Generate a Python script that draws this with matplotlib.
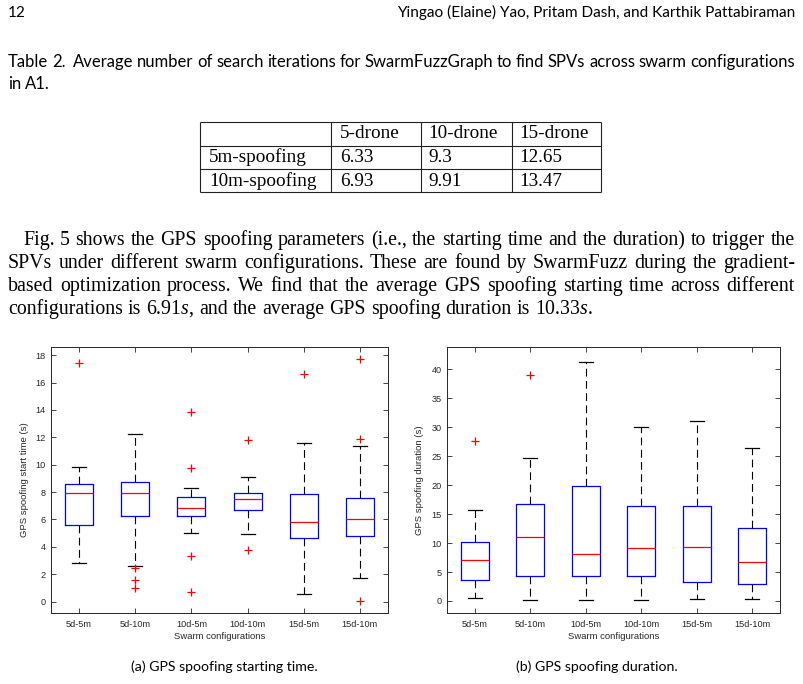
import matplotlib
matplotlib.use('Agg')
import matplotlib.pyplot as plt

W, H = 804, 684

# ---------------- data ----------------
configs = ['5d-5m', '5d-10m', '10d-5m', '10d-10m', '15d-5m', '15d-10m']

# (a) GPS spoofing start time (s)
start_lo = [2.80, 2.58, 5.04, 4.91, 0.54, 1.70]
start_q1 = [5.57, 6.25, 6.25, 6.72, 4.67, 4.77]
start_med = [7.95, 7.90, 6.86, 7.47, 5.84, 6.01]
start_q3 = [8.60, 8.71, 7.64, 7.96, 7.88, 7.57]
start_hi = [9.80, 12.24, 8.32, 9.07, 11.60, 11.34]
start_fliers = [[17.45], [2.43, 1.58, 0.97], [13.82, 9.78, 3.36, 0.68],
                [11.82, 3.77], [16.60], [17.69, 11.85, 0.05]]

# (b) GPS spoofing duration (s)
dur_lo = [0.46, 0.17, 0.11, 0.11, 0.29, 0.40]
dur_q1 = [3.62, 4.37, 4.37, 4.25, 3.28, 2.99]
dur_med = [7.13, 11.03, 8.05, 9.14, 9.37, 6.78]
dur_q3 = [10.23, 16.72, 19.83, 16.38, 16.32, 12.64]
dur_hi = [15.75, 24.60, 41.26, 30.00, 31.10, 26.44]
dur_fliers = [[27.64], [38.90], [], [], [], []]

# Table 2
table_cols = ['5-drone', '10-drone', '15-drone']
table_rows = ['5m-spoofing', '10m-spoofing']
table_vals = [[6.33, 9.3, 12.65],
              [6.93, 9.91, 13.47]]

header_left = '12'
header_right = 'Yingao (Elaine) Yao, Pritam Dash, and Karthik Pattabiraman'
caption_lines = ['Table 2.  Average number of search iterations for SwarmFuzzGraph to find SPVs across swarm configurations',
                 'in A1.']
body_lines = ['Fig. 5 shows the GPS spoofing parameters (i.e., the starting time and the duration) to trigger the',
              'SPVs under different swarm configurations. These are found by SwarmFuzz during the gradient-',
              'based optimization process. We find that the average GPS spoofing starting time across different',
              'configurations is 6.91$s$, and the average GPS spoofing duration is 10.33$s$.']
sub_a = '(a) GPS spoofing starting time.'
sub_b = '(b) GPS spoofing duration.'

# ---------------- fonts ----------------
SANS = ['Lato', 'DejaVu Sans']
SERIF = ['Liberation Serif', 'DejaVu Serif']
PLOT = ['Liberation Sans', 'DejaVu Sans']
plt.rcParams['mathtext.fontset'] = 'custom'
plt.rcParams['mathtext.rm'] = 'Liberation Serif'
plt.rcParams['mathtext.it'] = 'Liberation Serif:italic'

fig = plt.figure(figsize=(W / 100, H / 100), dpi=100)
renderer = fig.canvas.get_renderer()

# page axes in pixel coordinates (y down)
page = fig.add_axes([0, 0, 1, 1], zorder=0)
page.set_xlim(0, W)
page.set_ylim(H, 0)
page.axis('off')


def text_line(s, x0, yb, x1=None, size=14.3, family=SERIF):
    # place words one by one, justified between x0 and x1 if x1 given
    words = s.split(' ')
    objs = [page.text(0, yb, w, ha='left', va='baseline', fontsize=size,
                      family=family, color='black') for w in words]
    widths = [o.get_window_extent(renderer).width for o in objs]
    if x1 is None:
        gap = 0.25 * size * 100 / 72
    else:
        gap = (x1 - x0 - sum(widths)) / (len(words) - 1)
    x = x0
    for o, w in zip(objs, widths):
        o.set_x(x)
        x += w + gap


# header
page.text(8, 17, header_left, ha='left', va='baseline', fontsize=11.1, family=SANS)
page.text(795, 17, header_right, ha='right', va='baseline', fontsize=11.1, family=SANS)

# table caption
text_line(caption_lines[0], 8, 67, 795, size=12, family=SANS)
text_line(caption_lines[1], 8, 89, size=12, family=SANS)

# table
col_edges = [200, 331.5, 421, 512.5, 601.5]
row_edges = [121.5, 145.5, 169, 192]
col_text_x = [209, 340, 428, 519]
row_base = [138, 162, 185.5]
page.hlines(row_edges, col_edges[0], col_edges[-1], color='#222222', lw=0.8)
page.vlines(col_edges, row_edges[0], row_edges[-1], color='#222222', lw=0.8)
for j, c in enumerate(table_cols):
    page.text(col_text_x[j + 1], row_base[0], c, ha='left', va='baseline',
              fontsize=13.8, family=SERIF)
for i, r in enumerate(table_rows):
    page.text(col_text_x[0], row_base[i + 1], r, ha='left', va='baseline',
              fontsize=13.8, family=SERIF)
    for j, v in enumerate(table_vals[i]):
        page.text(col_text_x[j + 1], row_base[i + 1], str(v), ha='left',
                  va='baseline', fontsize=13.8, family=SERIF)

# body paragraph
text_line(body_lines[0], 23, 245, 795)
text_line(body_lines[1], 8, 268, 795)
text_line(body_lines[2], 8, 291, 795)
text_line(body_lines[3], 8, 314)

# subfigure captions
page.text(224, 671, sub_a, ha='center', va='baseline', fontsize=10.2, family=SANS)
page.text(597, 671, sub_b, ha='center', va='baseline', fontsize=10.2, family=SANS)


# ---------------- box plots ----------------
def make_stats(lo, q1, med, q3, hi, fl):
    return [dict(whislo=lo[i], q1=q1[i], med=med[i], q3=q3[i], whishi=hi[i],
                 fliers=fl[i], label=configs[i]) for i in range(len(configs))]


GRAY = '#262626'


def draw_box(ax, stats, ylim, yticks, ylabel):
    ax.bxp(stats, positions=range(1, len(configs) + 1), widths=0.5, capwidths=0.25,
           boxprops=dict(color='#0000ff', lw=0.9),
           medianprops=dict(color='#ff0000', lw=0.9),
           whiskerprops=dict(color='black', lw=0.8, linestyle=(0, (7, 4))),
           capprops=dict(color='black', lw=0.9),
           flierprops=dict(marker='+', markeredgecolor='#ff0000', markersize=6,
                           markeredgewidth=0.9, linestyle='none'))
    ax.set_xlim(0.5, 6.5)
    ax.set_ylim(*ylim)
    ax.set_yticks(yticks)
    for s in ax.spines.values():
        s.set_color(GRAY)
        s.set_linewidth(0.7)
    ax.tick_params(direction='in', top=True, right=True, length=3.5, width=0.6,
                   color=GRAY, labelcolor=GRAY, labelsize=6.6)
    ax.tick_params(axis='x', pad=5)
    ax.tick_params(axis='y', pad=4)
    for lab in ax.get_xticklabels() + ax.get_yticklabels():
        lab.set_family(PLOT)
    ax.set_xlabel('Swarm configurations', fontsize=6.8, family=PLOT, color=GRAY)
    ax.set_ylabel(ylabel, fontsize=6.8, family=PLOT, color=GRAY)
    ax.xaxis.set_label_coords(0.5, -0.072)


ax1 = fig.add_axes([51 / W, 1 - 613 / H, 337 / W, 266 / H], zorder=1)
draw_box(ax1, make_stats(start_lo, start_q1, start_med, start_q3, start_hi, start_fliers),
         (-0.83, 18.6), range(0, 19, 2), 'GPS spoofing start time (s)')
ax1.yaxis.set_label_coords(-0.065, 0.5)

ax2 = fig.add_axes([447 / W, 1 - 613 / H, 333 / W, 266 / H], zorder=1)
draw_box(ax2, make_stats(dur_lo, dur_q1, dur_med, dur_q3, dur_hi, dur_fliers),
         (-2.07, 43.8), range(0, 41, 5), 'GPS spoofing duration (s)')
ax2.yaxis.set_label_coords(-0.07, 0.5)

fig.savefig('out.png', dpi=100)
